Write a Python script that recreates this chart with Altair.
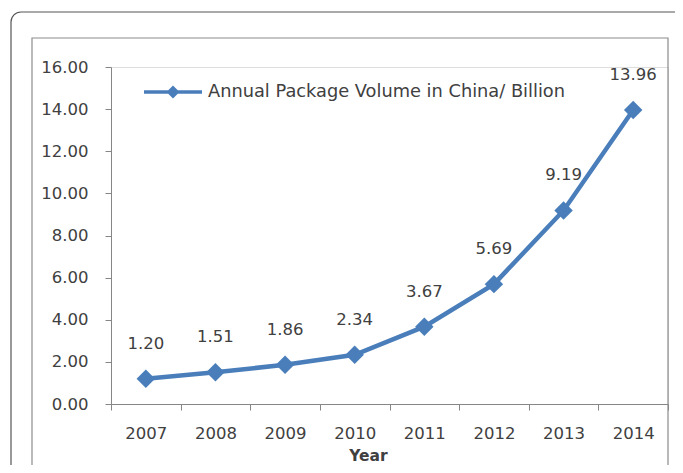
import altair as alt
import pandas as pd

years = ["2007", "2008", "2009", "2010", "2011", "2012", "2013", "2014"]
volumes = [1.20, 1.51, 1.86, 2.34, 3.67, 5.69, 9.19, 13.96]
value_labels = ["1.20", "1.51", "1.86", "2.34", "3.67", "5.69", "9.19", "13.96"]
series_name = "Annual Package Volume in China/ Billion"
y_ticks = [0, 2, 4, 6, 8, 10, 12, 14, 16]

df = pd.DataFrame({
    "Year": years,
    "Volume": volumes,
    "Label": value_labels,
    "Series": [series_name] * len(years),
})

BLUE = "#4A7EBB"
TEXT = "#404040"
AXIS = "#868686"
FONT = "DejaVu Sans"
FS = 16.5

x = alt.X(
    "Year:O",
    scale=alt.Scale(type="band", paddingInner=0, paddingOuter=0),
    axis=alt.Axis(
        title="Year", labelAngle=0, tickBand="extent", tickSize=6,
        tickColor=AXIS, domainColor=AXIS, labelColor=TEXT, labelFont=FONT,
        labelFontSize=FS, labelPadding=15, titleFont=FONT, titleFontSize=15.5,
        titleFontWeight="bold", titleColor=TEXT, titleX=257, titleY=56,
        titleBaseline="alphabetic", grid=False,
    ),
)
y = alt.Y(
    "Volume:Q",
    scale=alt.Scale(domain=[0, 16], nice=False, zero=True),
    axis=alt.Axis(
        title=None, values=y_ticks, format=".2f", grid=False, tickSize=6,
        tickColor=AXIS, domainColor=AXIS, labelColor=TEXT, labelFont=FONT,
        labelFontSize=FS, labelPadding=17,
    ),
)

deco = alt.Data(values=[{"k": 1}])
outer = alt.Chart(deco).mark_rect(
    fill="transparent", stroke="#555555", strokeWidth=1.2, cornerRadius=10
).encode(x=alt.value(-100), x2=alt.value(620), y=alt.value(-55), y2=alt.value(470))
inner = alt.Chart(deco).mark_rect(
    fill="transparent", stroke="#8C8C8C", strokeWidth=1.2
).encode(x=alt.value(-79), x2=alt.value(557), y=alt.value(-29), y2=alt.value(470))

line = alt.Chart(df).mark_line(color=BLUE, strokeWidth=4.5).encode(x=x, y=y)

legend_symbol = "M-1,0L1,0M0,-0.14L0.14,0L0,0.14L-0.14,0Z"
pts = alt.Chart(df).mark_point(shape="diamond", filled=True, size=340, opacity=1).encode(
    x=x, y=y,
    color=alt.Color(
        "Series:N", scale=alt.Scale(range=[BLUE]),
        legend=alt.Legend(
            title=None, orient="none", legendX=31, legendY=-6, padding=0,
            symbolType=legend_symbol, symbolSize=3364, symbolStrokeColor=BLUE,
            symbolFillColor=BLUE, symbolStrokeWidth=3.5, labelFont=FONT,
            labelFontSize=17.8, labelColor=TEXT, labelOffset=4, labelLimit=600,
        ),
    ),
)

text = alt.Chart(df).mark_text(dy=-35, fontSize=FS, font=FONT, color=TEXT).encode(
    x=x, y=y, text="Label:N"
)

chart = alt.layer(outer, inner, line, pts, text).properties(
    width=557,
    height=337,
    padding={"left": 103, "top": 59, "right": 7, "bottom": 61},
    autosize=alt.AutoSizeParams(type="none"),
).configure_view(strokeWidth=0).configure(background="white")

chart.save("out.html", embed_options={"renderer": "svg", "actions": False})
